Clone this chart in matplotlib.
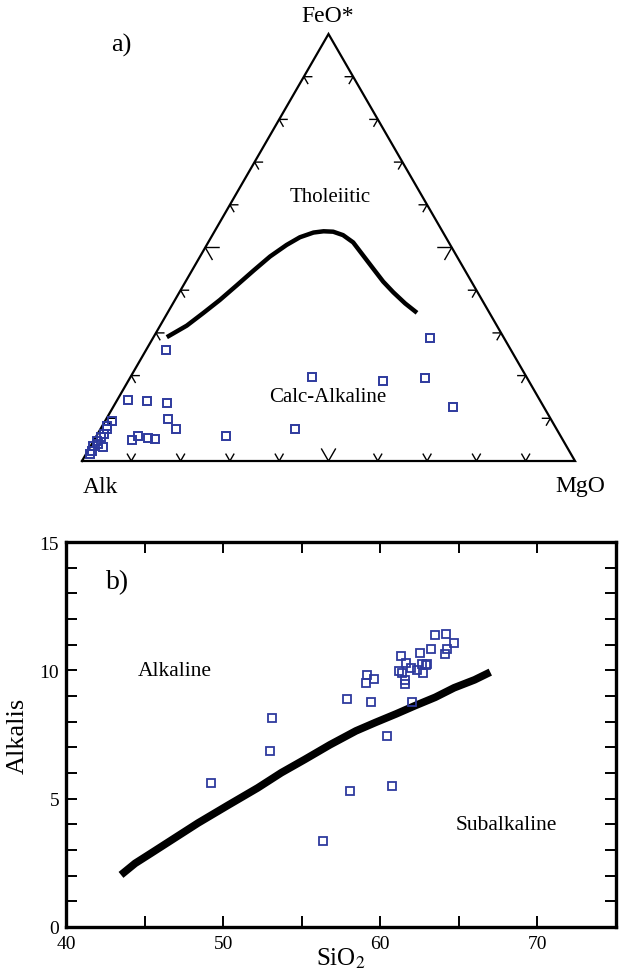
import numpy as np
import matplotlib
matplotlib.use("Agg")
import matplotlib.pyplot as plt
from matplotlib.ticker import FixedLocator, MultipleLocator

plt.rcParams['font.family'] = ['Liberation Serif', 'DejaVu Serif']
plt.rcParams['mathtext.fontset'] = 'stix'

BLUE = '#2e3a9e'

# --- AFM ternary data (wt% FeO*, MgO, Alk) ---
tern_feo = [26.0, 14.4, 14.1, 13.7, 9.8, 7.5, 9.3, 5.9, 5.0, 5.4, 5.2, 5.8, 7.5, 19.6,
            18.7, 19.4, 28.8, 12.7, 8.3, 6.3, 3.3, 4.8, 3.6, 2.4, 1.6, 4.0, 7.5, 5.6]
tern_mgo = [4.0, 2.2, 6.1, 10.4, 12.5, 15.3, 1.4, 8.5, 7.6, 10.6, 12.2, 26.3, 39.5, 36.8,
            51.8, 59.9, 56.1, 69.0, 0.9, 1.4, 2.6, 0.6, 0.5, 0.8, 0.8, 1.3, 1.3, 1.0]
tern_alk = [70.0, 83.4, 79.8, 75.9, 77.7, 77.2, 89.3, 85.6, 87.4, 84.0, 82.6, 67.9, 53.0, 43.6,
            29.5, 20.7, 15.1, 18.3, 90.8, 92.3, 94.1, 94.6, 95.9, 96.8, 97.6, 94.7, 91.2, 93.4]

# tholeiitic / calc-alkaline boundary
bnd_feo = [29.0, 31.7, 34.7, 37.7, 41.1, 44.6, 47.9, 50.6, 52.4, 53.5, 53.8, 53.7,
           52.9, 51.2, 48.1, 45.0, 42.0, 39.5, 36.9, 34.7]
bnd_mgo = [2.7, 5.4, 7.3, 9.1, 10.8, 12.5, 14.2, 16.2, 18.0, 20.2, 22.1, 24.1,
           26.5, 29.4, 33.0, 36.6, 40.1, 43.4, 47.1, 50.6]

# --- TAS-type data ---
sio2 = [49.2, 53.1, 52.95, 56.35, 58.05, 60.45, 60.75, 57.9, 59.4, 59.15, 59.1, 59.6,
        62.0, 61.3, 61.2, 61.35, 61.6, 61.6, 61.65, 61.95, 62.35, 62.55, 62.65, 62.7,
        62.95, 62.9, 63.2, 63.45, 64.2, 64.25, 64.1, 64.7]
alkalis = [5.6, 8.15, 6.85, 3.35, 5.3, 7.45, 5.5, 8.9, 8.75, 9.8, 9.5, 9.65,
           8.75, 10.55, 9.97, 9.9, 9.63, 9.45, 10.3, 10.1, 10.0, 10.68, 10.26, 9.9,
           10.26, 10.2, 10.85, 11.37, 11.43, 10.84, 10.65, 11.05]

div_sio2 = [43.5, 44.4, 45.4, 46.9, 48.4, 50.3, 52.2, 53.7, 55.2, 56.8, 58.45,
            59.7, 61.0, 62.2, 63.5, 64.7, 66.0, 67.0]
div_alk = [2.03, 2.48, 2.87, 3.46, 4.05, 4.74, 5.42, 6.01, 6.53, 7.10, 7.64,
           7.97, 8.30, 8.62, 8.95, 9.32, 9.63, 9.93]

H = np.sqrt(3) / 2


def tern_xy(feo, mgo, alk):
    feo = np.asarray(feo, float)
    mgo = np.asarray(mgo, float)
    alk = np.asarray(alk, float)
    s = feo + mgo + alk
    f = feo / s
    m = mgo / s
    return m + f / 2, f * H


fig = plt.figure(figsize=(6.19, 9.70), dpi=100)

# ---------------- a) AFM diagram ----------------
W, Hf = 619.0, 970.0
ax1 = fig.add_axes([82 / W, (970 - 462) / Hf, 493 / W, 427 / Hf])
ax1.set_xlim(0, 1)
ax1.set_ylim(0, H)
ax1.axis('off')

ax1.plot([0, 1, 0.5, 0], [0, 0, H, 0], color='black', lw=1.6, clip_on=False,
         solid_joinstyle='miter')

# chevron ticks every 10 %
for k in range(1, 10):
    t = k / 10
    L = 0.028 if k == 5 else 0.016
    # left edge: "<"
    px, py = 0.5 * t, H * t
    ax1.plot([px + L, px, px + 0.5 * L], [py, py, py - H * L], color='black', lw=1.0, clip_on=False)
    # right edge: ">"
    px, py = 1 - 0.5 * t, H * t
    ax1.plot([px - L, px, px - 0.5 * L], [py, py, py - H * L], color='black', lw=1.0, clip_on=False)
    # bottom edge: "v"
    px, py = t, 0
    ax1.plot([px - 0.5 * L, px, px + 0.5 * L], [H * L, py, H * L], color='black', lw=1.0, clip_on=False)

bx, by = tern_xy(bnd_feo, bnd_mgo, 100 - np.array(bnd_feo) - np.array(bnd_mgo))
ax1.plot(bx, by, color='black', lw=3.2, solid_capstyle='butt', solid_joinstyle='round')

tx, ty = tern_xy(tern_feo, tern_mgo, tern_alk)
ax1.plot(tx, ty, 's', mfc='none', mec=BLUE, ms=6.3, mew=1.4, clip_on=False)

ax1.text(0.499, 0.9026, 'FeO*', fontsize=17, ha='center', va='center', clip_on=False)
ax1.text(0.079, 0.844, 'a)', fontsize=19, ha='center', va='center', clip_on=False)
ax1.text(0.0365, -0.0527, 'Alk', fontsize=17, ha='center', va='center', clip_on=False)
ax1.text(1.010, -0.0487, 'MgO', fontsize=17, ha='center', va='center', clip_on=False)
ax1.text(0.503, 0.5355, 'Tholeiitic', fontsize=15, ha='center', va='center')
ax1.text(0.499, 0.1318, 'Calc-Alkaline', fontsize=15, ha='center', va='center')

# ---------------- b) Alkalis vs SiO2 ----------------
ax2 = fig.add_axes([66 / W, (970 - 928) / Hf, 550 / W, 385 / Hf])
ax2.set_xlim(40, 75)
ax2.set_ylim(0, 15)

ax2.plot(div_sio2, div_alk, color='black', lw=5.5, solid_capstyle='butt', solid_joinstyle='round')
ax2.plot(sio2, alkalis, 's', mfc='none', mec=BLUE, ms=5.8, mew=1.3)

for sp in ax2.spines.values():
    sp.set_linewidth(2.4)

ax2.xaxis.set_major_locator(FixedLocator([40, 50, 60, 70]))
ax2.xaxis.set_minor_locator(FixedLocator([45, 55, 65]))
ax2.yaxis.set_major_locator(MultipleLocator(5))
ax2.yaxis.set_minor_locator(MultipleLocator(1))
ax2.tick_params(which='both', direction='in', top=True, right=True, length=8, width=1.4,
                labelsize=14)
ax2.tick_params(axis='x', pad=6)
ax2.tick_params(axis='y', pad=5)

ax2.set_xlabel('SiO$_2$', fontsize=18, labelpad=-5)
ax2.set_ylabel('Alkalis', fontsize=19, labelpad=8)

ax2.text(43.3, 13.45, 'b)', fontsize=20, ha='center', va='center')
ax2.text(46.9, 10.0, 'Alkaline', fontsize=15.5, ha='center', va='center')
ax2.text(68.0, 4.0, 'Subalkaline', fontsize=15.5, ha='center', va='center')

fig.savefig('out.png', dpi=100)
